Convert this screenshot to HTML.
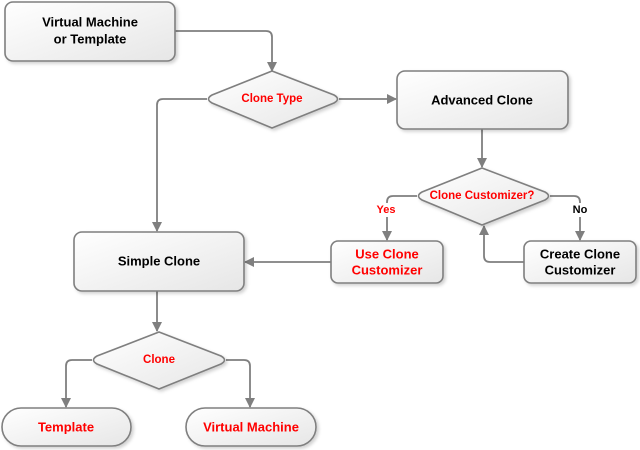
<!DOCTYPE html>
<html><head><meta charset="utf-8"><style>
html,body{margin:0;padding:0;background:#fff;}
svg{display:block;}
text{font-family:"Liberation Sans",sans-serif;font-weight:bold;text-anchor:middle;dominant-baseline:central;}
.b{font-size:13px;fill:#000;}
.r{font-size:13px;fill:#f00;}
.d{font-size:11.5px;fill:#f00;}
.s{fill:url(#g);stroke:#7f7f7f;stroke-width:1.6;filter:url(#sh);}
.l{fill:none;stroke:#7f7f7f;stroke-width:1.8;}
</style></head><body>
<svg width="640" height="450" viewBox="0 0 640 450">
<defs>
<linearGradient id="g" x1="0" y1="0" x2="1" y2="1"><stop offset="0" stop-color="#ffffff"/><stop offset="1" stop-color="#e6e6e6"/></linearGradient>
<filter id="sh" x="-10%" y="-10%" width="130%" height="140%"><feDropShadow dx="2" dy="2" stdDeviation="1.5" flood-color="#000" flood-opacity="0.18"/></filter>
<marker id="a" markerWidth="10" markerHeight="10" refX="9" refY="5" orient="auto" markerUnits="userSpaceOnUse"><path d="M0,0 L10,5 L0,10 z" fill="#7f7f7f"/></marker>
</defs>
<!-- connectors -->
<path class="l" d="M174,31 H266 Q272,31 272,37 V71" marker-end="url(#a)"/>
<path class="l" d="M207,99 H163 Q157,99 157,105 V231" marker-end="url(#a)"/>
<path class="l" d="M339,99 H396" marker-end="url(#a)"/>
<path class="l" d="M482,129 V167" marker-end="url(#a)"/>
<path class="l" d="M417,196 H393 Q387,196 387,202 V240" marker-end="url(#a)"/>
<path class="l" d="M550,196 H574 Q580,196 580,202 V240" marker-end="url(#a)"/>
<path class="l" d="M524,262 H490 Q484,262 484,256 V226" marker-end="url(#a)"/>
<path class="l" d="M331,262 H245" marker-end="url(#a)"/>
<path class="l" d="M157,291 V331" marker-end="url(#a)"/>
<path class="l" d="M92,360 H72 Q66,360 66,366 V407" marker-end="url(#a)"/>
<path class="l" d="M226,360 H244 Q250,360 250,366 V407" marker-end="url(#a)"/>
<rect x="372" y="203" width="28" height="14" fill="#fff"/>
<rect x="568" y="203" width="24" height="14" fill="#fff"/>
<text x="386" y="210" style="font-size:11px;fill:#f00">Yes</text>
<text x="580" y="210" style="font-size:11px;fill:#000">No</text>
<!-- shapes -->
<rect class="s" x="5" y="2" width="170" height="59" rx="8"/>
<text class="b" x="90" y="22">Virtual Machine</text>
<text class="b" x="90" y="39">or Template</text>
<path class="s" d="M272,71 L334,95 Q341,99 334,103 L272,128 L212,103 Q205,99 212,95 Z"/>
<text class="d" x="272" y="99">Clone Type</text>
<rect class="s" x="397" y="71" width="171" height="58" rx="8"/>
<text class="b" x="482" y="100">Advanced Clone</text>
<path class="s" d="M482,168 L545,192 Q552,196 545,200 L482,225 L422,200 Q415,196 422,192 Z"/>
<text class="d" x="482" y="196">Clone Customizer?</text>
<rect class="s" x="331" y="241" width="112" height="42" rx="7"/>
<text class="r" x="387" y="254">Use Clone</text>
<text class="r" x="387" y="270">Customizer</text>
<rect class="s" x="524" y="241" width="112" height="42" rx="7"/>
<text class="b" x="580" y="254">Create Clone</text>
<text class="b" x="580" y="270">Customizer</text>
<rect class="s" x="74" y="232" width="170" height="59" rx="8"/>
<text class="b" x="159" y="261">Simple Clone</text>
<path class="s" d="M159,332 L221,356 Q228,360 221,364 L159,389 L97,364 Q90,360 97,356 Z"/>
<text class="d" x="159" y="360">Clone</text>
<rect class="s" x="2" y="408" width="129" height="38" rx="19"/>
<text class="r" x="66" y="427">Template</text>
<rect class="s" x="186" y="408" width="130" height="38" rx="19"/>
<text class="r" x="251" y="427">Virtual Machine</text>
</svg>
</body></html>
